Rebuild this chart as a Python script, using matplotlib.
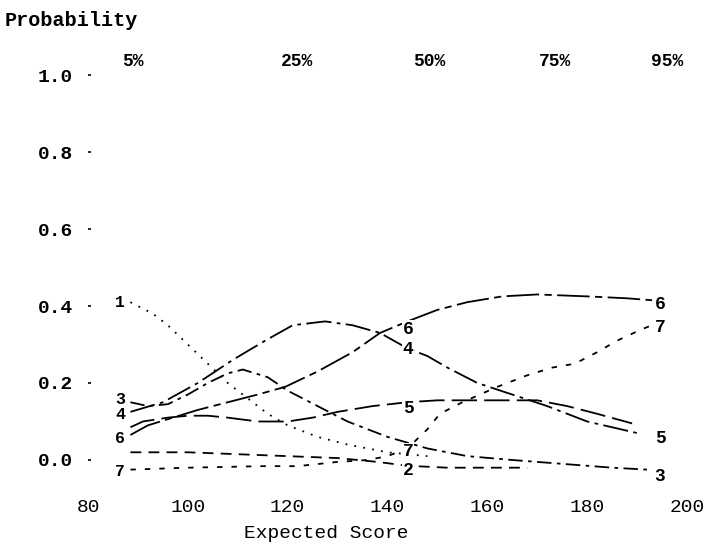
import matplotlib
matplotlib.use("Agg")
import matplotlib.pyplot as plt

# ---- data ----
x1 = [88.5, 90, 93, 96, 100, 104, 108, 112, 116, 120, 126, 132, 140, 148]
y1 = [0.41, 0.40, 0.38, 0.35, 0.30, 0.25, 0.20, 0.16, 0.12, 0.09, 0.06, 0.04, 0.02, 0.01]

x2 = [88.5, 95, 100, 110, 120, 130, 138, 144, 152, 160, 168]
y2 = [0.02, 0.02, 0.02, 0.015, 0.01, 0.005, -0.005, -0.015, -0.02, -0.02, -0.02]

x3 = [88.5, 92, 96, 100, 104, 108, 111, 116, 120, 126, 132, 140, 148, 156, 165, 175, 185, 192]
y3 = [0.15, 0.14, 0.145, 0.17, 0.20, 0.225, 0.235, 0.215, 0.18, 0.14, 0.10, 0.06, 0.03, 0.01, 0.0, -0.01, -0.02, -0.025]

x4 = [88.5, 95, 102, 109, 115.5, 121, 127.5, 133, 138.5, 144, 148, 152, 158, 165, 172, 180, 190]
y4 = [0.125, 0.15, 0.20, 0.26, 0.31, 0.35, 0.36, 0.35, 0.33, 0.29, 0.27, 0.24, 0.20, 0.17, 0.14, 0.10, 0.07]

x5 = [88.5, 91, 96, 100, 104, 108, 114, 120, 125, 130, 137, 144, 150, 160, 170, 176, 182, 189]
y5 = [0.085, 0.10, 0.11, 0.115, 0.115, 0.11, 0.10, 0.10, 0.11, 0.125, 0.14, 0.15, 0.155, 0.155, 0.155, 0.14, 0.12, 0.095]

x6 = [88.5, 92, 97, 102, 108, 114, 119.5, 126, 133, 138.5, 144, 150, 156, 163, 170, 180, 188, 193]
y6 = [0.065, 0.09, 0.11, 0.13, 0.15, 0.17, 0.19, 0.23, 0.28, 0.33, 0.36, 0.39, 0.41, 0.425, 0.43, 0.425, 0.42, 0.415]

x7 = [88.5, 100, 115, 122, 130, 136, 140, 144, 148, 150.5, 155, 162, 168, 173, 177.5, 182, 186, 191, 193]
y7 = [-0.025, -0.02, -0.016, -0.016, -0.005, 0.0, 0.01, 0.03, 0.08, 0.12, 0.15, 0.19, 0.22, 0.24, 0.25, 0.28, 0.31, 0.34, 0.35]

series = [("1", x1, y1), ("2", x2, y2), ("3", x3, y3), ("4", x4, y4),
          ("5", x5, y5), ("6", x6, y6), ("7", x7, y7)]

left_labels = [("1", 0.41), ("3", 0.158), ("4", 0.118), ("6", 0.057), ("7", -0.031)]
mid_labels = [("6", 0.34), ("4", 0.288), ("5", 0.135), ("7", 0.021), ("2", -0.026)]
right_labels = [("6", 0.403), ("7", 0.345), ("5", 0.057), ("3", -0.044)]

pct_labels = ["5%", "25%", "50%", "75%", "95%"]
pct_x = [89, 121.9, 148.3, 173.5, 196]

xticks = [80, 100, 120, 140, 160, 180, 200]
yticks = [0.0, 0.2, 0.4, 0.6, 0.8, 1.0]

# ---- styles ----
styles = {
    "1": (0, (1, 4)),
    "2": (0, (6, 4)),
    "3": (0, (8, 3, 2, 3)),
    "4": (0, (14, 3, 2, 3)),
    "5": (0, (14, 4)),
    "6": (0, (18, 3, 4, 3)),
    "7": (0, (3, 5)),
}

font = ["Liberation Mono", "DejaVu Sans Mono"]
plt.rcParams["font.family"] = font

fig = plt.figure(figsize=(7.11, 5.48), dpi=100)
ax = fig.add_axes([88 / 711, 0.1044, 599 / 711, 0.7587])
ax.set_xlim(80, 200)
ax.set_ylim(-0.08, 1.0)

for name, xs, ys in series:
    ax.plot(xs, ys, color="black", lw=1.3, linestyle=styles[name])

for t, v in left_labels:
    ax.text(86.4, v, t, fontsize=12, fontweight="bold", ha="center", va="center")
for t, v in mid_labels:
    ax.text(144.1, v, t, fontsize=13, fontweight="bold", ha="center", va="center",
            bbox=dict(facecolor="white", edgecolor="none", pad=0.5))
for t, v in right_labels:
    ax.text(194.6, v, t, fontsize=13, fontweight="bold", ha="center", va="center")

for t, xv in zip(pct_labels, pct_x):
    ax.text(xv, 1.036, t, fontsize=13, fontweight="bold", ha="center", va="center",
            clip_on=False)

for s in ax.spines.values():
    s.set_visible(False)

ax.set_xticks(xticks)
ax.set_xticklabels([str(v) for v in xticks], fontsize=14)
ax.set_yticks(yticks)
ax.set_yticklabels([f"{v:.1f}" for v in yticks], fontsize=14, fontweight="bold")
ax.tick_params(axis="x", length=0, pad=6)
ax.tick_params(axis="y", length=2, width=1.2, direction="in", pad=11)

fig.text(326 / 711, 1 - 533 / 548, "Expected Score", fontsize=14, ha="center", va="center")
fig.text(5 / 711, 1 - 20 / 548, "Probability", fontsize=14.5, fontweight="bold",
         ha="left", va="center")

fig.savefig("out.png", dpi=100, facecolor="white")
